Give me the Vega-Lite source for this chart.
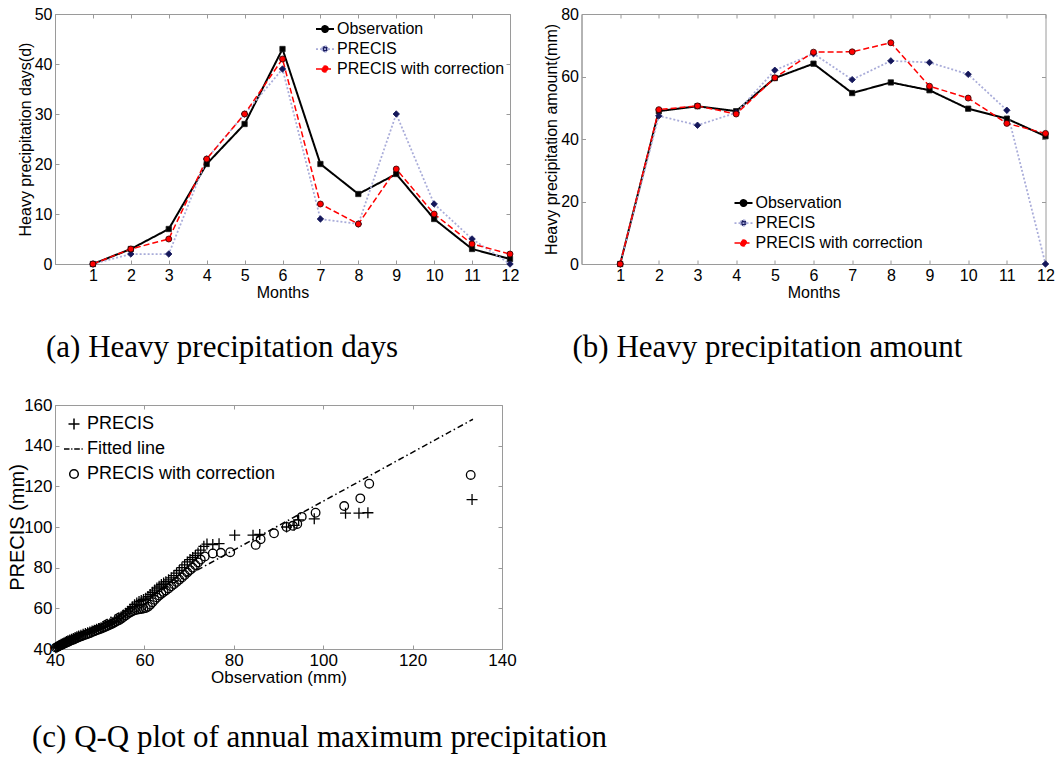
{
  "$schema": "https://vega.github.io/schema/vega-lite/v6.json",
  "padding": {"left": 7, "top": 5, "right": 5, "bottom": 0},
  "background": "white",
  "config": {
    "font": "Liberation Sans",
    "view": {"stroke": "#9a9a9a", "strokeWidth": 1},
    "axis": {
      "grid": false, "domainColor": "#9a9a9a", "tickColor": "#9a9a9a", "tickSize": -4,
      "labelPadding": 7, "labelFont": "Liberation Sans", "titleFont": "Liberation Sans",
      "labelColor": "black", "titleColor": "black", "titleFontWeight": "normal",
      "labelFontSize": 16, "titleFontSize": 16, "labelFlush": false, "labelOverlap": false
    },
    "legend": {"labelFont": "Liberation Sans", "labelColor": "black", "padding": 0, "title": null, "labelLimit": 400}
  },
  "resolve": {
    "scale": {"stroke": "independent", "strokeDash": "independent", "strokeWidth": "independent", "shape": "independent"}
  },
  "datasets": {
    "days": [
      {"month": 1, "series": "Observation", "value": 0}, {"month": 2, "series": "Observation", "value": 3},
      {"month": 3, "series": "Observation", "value": 7}, {"month": 4, "series": "Observation", "value": 20},
      {"month": 5, "series": "Observation", "value": 28}, {"month": 6, "series": "Observation", "value": 43},
      {"month": 7, "series": "Observation", "value": 20}, {"month": 8, "series": "Observation", "value": 14},
      {"month": 9, "series": "Observation", "value": 18}, {"month": 10, "series": "Observation", "value": 9},
      {"month": 11, "series": "Observation", "value": 3}, {"month": 12, "series": "Observation", "value": 1},
      {"month": 1, "series": "PRECIS", "value": 0}, {"month": 2, "series": "PRECIS", "value": 2},
      {"month": 3, "series": "PRECIS", "value": 2}, {"month": 4, "series": "PRECIS", "value": 21},
      {"month": 5, "series": "PRECIS", "value": 30}, {"month": 6, "series": "PRECIS", "value": 39},
      {"month": 7, "series": "PRECIS", "value": 9}, {"month": 8, "series": "PRECIS", "value": 8},
      {"month": 9, "series": "PRECIS", "value": 30}, {"month": 10, "series": "PRECIS", "value": 12},
      {"month": 11, "series": "PRECIS", "value": 5}, {"month": 12, "series": "PRECIS", "value": 0},
      {"month": 1, "series": "PRECIS with correction", "value": 0}, {"month": 2, "series": "PRECIS with correction", "value": 3},
      {"month": 3, "series": "PRECIS with correction", "value": 5}, {"month": 4, "series": "PRECIS with correction", "value": 21},
      {"month": 5, "series": "PRECIS with correction", "value": 30}, {"month": 6, "series": "PRECIS with correction", "value": 41},
      {"month": 7, "series": "PRECIS with correction", "value": 12}, {"month": 8, "series": "PRECIS with correction", "value": 8},
      {"month": 9, "series": "PRECIS with correction", "value": 19}, {"month": 10, "series": "PRECIS with correction", "value": 10},
      {"month": 11, "series": "PRECIS with correction", "value": 4}, {"month": 12, "series": "PRECIS with correction", "value": 2}
    ],
    "amount": [
      {"month": 1, "series": "Observation", "value": 0}, {"month": 2, "series": "Observation", "value": 48.9},
      {"month": 3, "series": "Observation", "value": 50.5}, {"month": 4, "series": "Observation", "value": 48.9},
      {"month": 5, "series": "Observation", "value": 59.5}, {"month": 6, "series": "Observation", "value": 64.1},
      {"month": 7, "series": "Observation", "value": 54.7}, {"month": 8, "series": "Observation", "value": 58.1},
      {"month": 9, "series": "Observation", "value": 55.6}, {"month": 10, "series": "Observation", "value": 49.7},
      {"month": 11, "series": "Observation", "value": 46.5}, {"month": 12, "series": "Observation", "value": 40.9},
      {"month": 1, "series": "PRECIS", "value": 0}, {"month": 2, "series": "PRECIS", "value": 47.4},
      {"month": 3, "series": "PRECIS", "value": 44.4}, {"month": 4, "series": "PRECIS", "value": 48.4},
      {"month": 5, "series": "PRECIS", "value": 62}, {"month": 6, "series": "PRECIS", "value": 67.3},
      {"month": 7, "series": "PRECIS", "value": 59}, {"month": 8, "series": "PRECIS", "value": 65},
      {"month": 9, "series": "PRECIS", "value": 64.5}, {"month": 10, "series": "PRECIS", "value": 60.7},
      {"month": 11, "series": "PRECIS", "value": 49.2}, {"month": 12, "series": "PRECIS", "value": 0},
      {"month": 1, "series": "PRECIS with correction", "value": 0}, {"month": 2, "series": "PRECIS with correction", "value": 49.4},
      {"month": 3, "series": "PRECIS with correction", "value": 50.6}, {"month": 4, "series": "PRECIS with correction", "value": 48},
      {"month": 5, "series": "PRECIS with correction", "value": 59.6}, {"month": 6, "series": "PRECIS with correction", "value": 67.8},
      {"month": 7, "series": "PRECIS with correction", "value": 67.9}, {"month": 8, "series": "PRECIS with correction", "value": 70.8},
      {"month": 9, "series": "PRECIS with correction", "value": 56.9}, {"month": 10, "series": "PRECIS with correction", "value": 53.1},
      {"month": 11, "series": "PRECIS with correction", "value": 45}, {"month": 12, "series": "PRECIS with correction", "value": 41.8}
    ],
    "fit": [
      {"obs": 40, "val": 40.5}, {"obs": 133.5, "val": 153}
    ],
    "qq": [
      {"obs": 40.2, "val": 40.6, "series": "PRECIS"}, {"obs": 40.5, "val": 41.0, "series": "PRECIS"},
      {"obs": 40.8, "val": 41.5, "series": "PRECIS"}, {"obs": 41.1, "val": 41.9, "series": "PRECIS"},
      {"obs": 41.4, "val": 42.3, "series": "PRECIS"}, {"obs": 41.7, "val": 42.6, "series": "PRECIS"},
      {"obs": 42.0, "val": 43.0, "series": "PRECIS"}, {"obs": 42.3, "val": 43.3, "series": "PRECIS"},
      {"obs": 42.6, "val": 43.7, "series": "PRECIS"}, {"obs": 42.9, "val": 44.0, "series": "PRECIS"},
      {"obs": 43.3, "val": 44.4, "series": "PRECIS"}, {"obs": 43.7, "val": 44.8, "series": "PRECIS"},
      {"obs": 44.1, "val": 45.2, "series": "PRECIS"}, {"obs": 44.5, "val": 45.6, "series": "PRECIS"},
      {"obs": 44.9, "val": 46.0, "series": "PRECIS"}, {"obs": 45.3, "val": 46.4, "series": "PRECIS"},
      {"obs": 45.8, "val": 46.8, "series": "PRECIS"}, {"obs": 46.3, "val": 47.2, "series": "PRECIS"},
      {"obs": 46.8, "val": 47.6, "series": "PRECIS"}, {"obs": 47.3, "val": 48.0, "series": "PRECIS"},
      {"obs": 47.8, "val": 48.4, "series": "PRECIS"}, {"obs": 48.3, "val": 48.8, "series": "PRECIS"},
      {"obs": 48.8, "val": 49.2, "series": "PRECIS"}, {"obs": 49.3, "val": 49.7, "series": "PRECIS"},
      {"obs": 49.8, "val": 50.1, "series": "PRECIS"}, {"obs": 50.3, "val": 50.5, "series": "PRECIS"},
      {"obs": 50.8, "val": 51.0, "series": "PRECIS"}, {"obs": 51.3, "val": 51.4, "series": "PRECIS"},
      {"obs": 51.8, "val": 51.9, "series": "PRECIS"}, {"obs": 52.3, "val": 52.4, "series": "PRECIS"},
      {"obs": 52.8, "val": 52.9, "series": "PRECIS"}, {"obs": 53.3, "val": 53.5, "series": "PRECIS"},
      {"obs": 53.8, "val": 54.2, "series": "PRECIS"}, {"obs": 54.3, "val": 55.0, "series": "PRECIS"},
      {"obs": 54.8, "val": 55.8, "series": "PRECIS"}, {"obs": 55.3, "val": 56.7, "series": "PRECIS"},
      {"obs": 55.8, "val": 57.6, "series": "PRECIS"}, {"obs": 56.3, "val": 58.6, "series": "PRECIS"},
      {"obs": 56.8, "val": 59.7, "series": "PRECIS"}, {"obs": 57.3, "val": 60.8, "series": "PRECIS"},
      {"obs": 57.8, "val": 61.8, "series": "PRECIS"}, {"obs": 58.3, "val": 62.6, "series": "PRECIS"},
      {"obs": 58.8, "val": 63.3, "series": "PRECIS"}, {"obs": 59.3, "val": 63.9, "series": "PRECIS"},
      {"obs": 59.8, "val": 64.4, "series": "PRECIS"}, {"obs": 60.3, "val": 65.0, "series": "PRECIS"},
      {"obs": 60.8, "val": 65.8, "series": "PRECIS"}, {"obs": 61.3, "val": 66.8, "series": "PRECIS"},
      {"obs": 61.8, "val": 67.9, "series": "PRECIS"}, {"obs": 62.3, "val": 69.0, "series": "PRECIS"},
      {"obs": 62.8, "val": 70.0, "series": "PRECIS"}, {"obs": 63.3, "val": 70.9, "series": "PRECIS"},
      {"obs": 63.8, "val": 71.7, "series": "PRECIS"}, {"obs": 64.3, "val": 72.4, "series": "PRECIS"},
      {"obs": 64.8, "val": 73.1, "series": "PRECIS"}, {"obs": 65.4, "val": 74.0, "series": "PRECIS"},
      {"obs": 66.0, "val": 75.0, "series": "PRECIS"}, {"obs": 66.6, "val": 76.1, "series": "PRECIS"},
      {"obs": 67.2, "val": 77.3, "series": "PRECIS"}, {"obs": 67.8, "val": 78.6, "series": "PRECIS"},
      {"obs": 68.4, "val": 80.0, "series": "PRECIS"}, {"obs": 69.0, "val": 81.4, "series": "PRECIS"},
      {"obs": 69.6, "val": 82.8, "series": "PRECIS"}, {"obs": 70.2, "val": 84.0, "series": "PRECIS"},
      {"obs": 70.8, "val": 85.0, "series": "PRECIS"}, {"obs": 71.4, "val": 86.0, "series": "PRECIS"},
      {"obs": 72.0, "val": 87.2, "series": "PRECIS"}, {"obs": 72.6, "val": 88.6, "series": "PRECIS"},
      {"obs": 73.3, "val": 90.5, "series": "PRECIS"}, {"obs": 74.0, "val": 91.6, "series": "PRECIS"},
      {"obs": 75.3, "val": 91.4, "series": "PRECIS"}, {"obs": 76.7, "val": 91.8, "series": "PRECIS"},
      {"obs": 80.2, "val": 96.0, "series": "PRECIS"}, {"obs": 84.3, "val": 96.0, "series": "PRECIS"},
      {"obs": 85.8, "val": 96.3, "series": "PRECIS"}, {"obs": 91.8, "val": 100.0, "series": "PRECIS"},
      {"obs": 93.5, "val": 100.8, "series": "PRECIS"}, {"obs": 94.5, "val": 103.5, "series": "PRECIS"},
      {"obs": 98.0, "val": 104.0, "series": "PRECIS"}, {"obs": 105.0, "val": 106.8, "series": "PRECIS"},
      {"obs": 108.0, "val": 106.8, "series": "PRECIS"}, {"obs": 110.0, "val": 107.0, "series": "PRECIS"},
      {"obs": 133.3, "val": 113.5, "series": "PRECIS"},
      {"obs": 40.2, "val": 40.7, "series": "PRECIS with correction"}, {"obs": 40.5, "val": 41.0, "series": "PRECIS with correction"},
      {"obs": 40.8, "val": 41.4, "series": "PRECIS with correction"}, {"obs": 41.1, "val": 41.7, "series": "PRECIS with correction"},
      {"obs": 41.4, "val": 42.0, "series": "PRECIS with correction"}, {"obs": 41.7, "val": 42.3, "series": "PRECIS with correction"},
      {"obs": 42.0, "val": 42.6, "series": "PRECIS with correction"}, {"obs": 42.3, "val": 42.9, "series": "PRECIS with correction"},
      {"obs": 42.6, "val": 43.2, "series": "PRECIS with correction"}, {"obs": 42.9, "val": 43.5, "series": "PRECIS with correction"},
      {"obs": 43.3, "val": 43.9, "series": "PRECIS with correction"}, {"obs": 43.7, "val": 44.3, "series": "PRECIS with correction"},
      {"obs": 44.1, "val": 44.6, "series": "PRECIS with correction"}, {"obs": 44.5, "val": 45.0, "series": "PRECIS with correction"},
      {"obs": 44.9, "val": 45.4, "series": "PRECIS with correction"}, {"obs": 45.3, "val": 45.8, "series": "PRECIS with correction"},
      {"obs": 45.8, "val": 46.2, "series": "PRECIS with correction"}, {"obs": 46.3, "val": 46.6, "series": "PRECIS with correction"},
      {"obs": 46.8, "val": 47.0, "series": "PRECIS with correction"}, {"obs": 47.3, "val": 47.4, "series": "PRECIS with correction"},
      {"obs": 47.8, "val": 47.8, "series": "PRECIS with correction"}, {"obs": 48.3, "val": 48.3, "series": "PRECIS with correction"},
      {"obs": 48.8, "val": 48.7, "series": "PRECIS with correction"}, {"obs": 49.3, "val": 49.2, "series": "PRECIS with correction"},
      {"obs": 49.8, "val": 49.6, "series": "PRECIS with correction"}, {"obs": 50.3, "val": 50.0, "series": "PRECIS with correction"},
      {"obs": 50.8, "val": 50.5, "series": "PRECIS with correction"}, {"obs": 51.3, "val": 50.9, "series": "PRECIS with correction"},
      {"obs": 51.8, "val": 51.4, "series": "PRECIS with correction"}, {"obs": 52.3, "val": 51.9, "series": "PRECIS with correction"},
      {"obs": 52.8, "val": 52.4, "series": "PRECIS with correction"}, {"obs": 53.3, "val": 53.0, "series": "PRECIS with correction"},
      {"obs": 53.8, "val": 53.6, "series": "PRECIS with correction"}, {"obs": 54.3, "val": 54.2, "series": "PRECIS with correction"},
      {"obs": 54.8, "val": 54.9, "series": "PRECIS with correction"}, {"obs": 55.3, "val": 55.7, "series": "PRECIS with correction"},
      {"obs": 55.8, "val": 56.5, "series": "PRECIS with correction"}, {"obs": 56.3, "val": 57.3, "series": "PRECIS with correction"},
      {"obs": 56.8, "val": 58.0, "series": "PRECIS with correction"}, {"obs": 57.3, "val": 58.6, "series": "PRECIS with correction"},
      {"obs": 57.8, "val": 59.0, "series": "PRECIS with correction"}, {"obs": 58.3, "val": 59.3, "series": "PRECIS with correction"},
      {"obs": 58.8, "val": 59.5, "series": "PRECIS with correction"}, {"obs": 59.3, "val": 59.7, "series": "PRECIS with correction"},
      {"obs": 59.8, "val": 59.9, "series": "PRECIS with correction"}, {"obs": 60.3, "val": 60.2, "series": "PRECIS with correction"},
      {"obs": 60.8, "val": 60.8, "series": "PRECIS with correction"}, {"obs": 61.3, "val": 61.8, "series": "PRECIS with correction"},
      {"obs": 61.8, "val": 63.0, "series": "PRECIS with correction"}, {"obs": 62.3, "val": 64.2, "series": "PRECIS with correction"},
      {"obs": 62.8, "val": 65.3, "series": "PRECIS with correction"}, {"obs": 63.3, "val": 66.3, "series": "PRECIS with correction"},
      {"obs": 63.8, "val": 67.2, "series": "PRECIS with correction"}, {"obs": 64.3, "val": 68.0, "series": "PRECIS with correction"},
      {"obs": 64.8, "val": 68.8, "series": "PRECIS with correction"}, {"obs": 65.4, "val": 69.8, "series": "PRECIS with correction"},
      {"obs": 66.0, "val": 70.8, "series": "PRECIS with correction"}, {"obs": 66.6, "val": 71.9, "series": "PRECIS with correction"},
      {"obs": 67.2, "val": 73.0, "series": "PRECIS with correction"}, {"obs": 67.8, "val": 74.1, "series": "PRECIS with correction"},
      {"obs": 68.4, "val": 75.2, "series": "PRECIS with correction"}, {"obs": 69.0, "val": 76.4, "series": "PRECIS with correction"},
      {"obs": 69.6, "val": 77.6, "series": "PRECIS with correction"}, {"obs": 70.2, "val": 78.8, "series": "PRECIS with correction"},
      {"obs": 70.8, "val": 80.0, "series": "PRECIS with correction"}, {"obs": 71.4, "val": 81.3, "series": "PRECIS with correction"},
      {"obs": 72.0, "val": 82.6, "series": "PRECIS with correction"}, {"obs": 72.6, "val": 84.0, "series": "PRECIS with correction"},
      {"obs": 73.5, "val": 85.5, "series": "PRECIS with correction"}, {"obs": 75.3, "val": 87.0, "series": "PRECIS with correction"},
      {"obs": 77.1, "val": 87.3, "series": "PRECIS with correction"}, {"obs": 79.2, "val": 87.6, "series": "PRECIS with correction"},
      {"obs": 84.9, "val": 91.2, "series": "PRECIS with correction"}, {"obs": 86.0, "val": 94.0, "series": "PRECIS with correction"},
      {"obs": 89.0, "val": 96.9, "series": "PRECIS with correction"}, {"obs": 91.8, "val": 100.0, "series": "PRECIS with correction"},
      {"obs": 93.2, "val": 100.6, "series": "PRECIS with correction"}, {"obs": 94.2, "val": 101.5, "series": "PRECIS with correction"},
      {"obs": 95.2, "val": 105.0, "series": "PRECIS with correction"}, {"obs": 98.3, "val": 107.0, "series": "PRECIS with correction"},
      {"obs": 104.7, "val": 110.3, "series": "PRECIS with correction"}, {"obs": 108.3, "val": 114.1, "series": "PRECIS with correction"},
      {"obs": 110.3, "val": 121.3, "series": "PRECIS with correction"}, {"obs": 133.0, "val": 125.6, "series": "PRECIS with correction"}
    ]
  },
  "columns": 2,
  "bounds": "flush",
  "spacing": {"column": 71.5, "row": 141},
  "concat": [
    {
      "width": 455, "height": 250,
      "title": {"text": "(a) Heavy precipitation days", "orient": "bottom", "anchor": "start", "frame": "group", "font": "Liberation Serif", "fontSize": 31, "fontWeight": "normal", "color": "black", "offset": 33, "dx": -9},
      "data": {"name": "days"},
      "resolve": {"axis": {"x": "independent", "y": "independent"}},
      "encoding": {
        "x": {"field": "month", "type": "quantitative", "scale": {"domain": [0, 12], "nice": false}, "axis": {"values": [1,2,3,4,5,6,7,8,9,10,11,12], "format": "d", "title": "Months", "titlePadding": 1}},
        "y": {"field": "value", "type": "quantitative", "scale": {"domain": [0, 50], "nice": false}, "axis": {"values": [0,10,20,30,40,50], "title": "Heavy precipitation days(d)", "titlePadding": 1}}
      },
      "layer": [
        {
          "mark": {"type": "line"},
          "encoding": {
            "stroke": {"field": "series", "type": "nominal", "scale": {"domain": ["Observation", "PRECIS", "PRECIS with correction"], "range": ["#000000", "#a9acd9", "#ff0000"]},
              "legend": {"orient": "top-right", "offset": 5, "labelFontSize": 16, "labelOffset": 2, "rowPadding": 2,
                "symbolType": "M-1,0L1,0M-0.33,0A0.33,0.33 0 1,0 0.33,0A0.33,0.33 0 1,0 -0.33,0", "symbolSize": 324,
                "encode": {"symbols": {"update": {
                  "fill": {"signal": "datum.value === 'Observation' ? '#000000' : datum.value === 'PRECIS' ? '#14175a' : '#ff0000'"},
                  "strokeDash": {"signal": "datum.value === 'PRECIS' ? [2,2] : datum.value === 'PRECIS with correction' ? [5,3] : [1,0]"},
                  "strokeWidth": {"signal": "datum.value === 'PRECIS' ? 1.5 : datum.value === 'PRECIS with correction' ? 2.5 : 2"}
                }}}}},
            "strokeDash": {"field": "series", "type": "nominal", "scale": {"domain": ["Observation", "PRECIS", "PRECIS with correction"], "range": [[1,0],[2,2],[6,3]]}, "legend": null},
            "strokeWidth": {"field": "series", "type": "nominal", "scale": {"domain": ["Observation", "PRECIS", "PRECIS with correction"], "range": [2, 1.5, 2.5]}, "legend": null}
          }
        },
        {"transform": [{"filter": "datum.series === 'Observation'"}], "mark": {"type": "point", "shape": "square", "filled": true, "fill": "#000000", "stroke": "#1a1a1a", "strokeWidth": 0.8, "size": 28, "opacity": 1},
          "encoding": {
            "x": {"field": "month", "type": "quantitative", "scale": {"domain": [0, 12], "nice": false}, "axis": {"orient": "top", "values": [1,2,3,4,5,6,7,8,9,10,11,12], "labels": false, "title": null, "domain": false}},
            "y": {"field": "value", "type": "quantitative", "scale": {"domain": [0, 50], "nice": false}, "axis": {"orient": "right", "values": [0,10,20,30,40,50], "labels": false, "title": null, "domain": false}}
          }},
        {"transform": [{"filter": "datum.series === 'PRECIS'"}], "mark": {"type": "point", "shape": "diamond", "filled": true, "fill": "#14175a", "stroke": "#14175a", "strokeWidth": 0.8, "size": 42, "opacity": 1},
          "encoding": {
            "x": {"field": "month", "type": "quantitative", "scale": {"domain": [0, 12], "nice": false}, "axis": null},
            "y": {"field": "value", "type": "quantitative", "scale": {"domain": [0, 50], "nice": false}, "axis": null}
          }},
        {"transform": [{"filter": "datum.series === 'PRECIS with correction'"}], "mark": {"type": "point", "shape": "circle", "filled": true, "fill": "#ff0000", "stroke": "#2a0000", "strokeWidth": 0.8, "size": 36, "opacity": 1},
          "encoding": {
            "x": {"field": "month", "type": "quantitative", "scale": {"domain": [0, 12], "nice": false}, "axis": null},
            "y": {"field": "value", "type": "quantitative", "scale": {"domain": [0, 50], "nice": false}, "axis": null}
          }}
      ]
    },
    {
      "width": 464, "height": 250,
      "title": {"text": "(b) Heavy precipitation amount", "orient": "bottom", "anchor": "start", "frame": "group", "font": "Liberation Serif", "fontSize": 31, "fontWeight": "normal", "color": "black", "offset": 33, "dx": -9},
      "data": {"name": "amount"},
      "resolve": {"axis": {"x": "independent", "y": "independent"}},
      "encoding": {
        "x": {"field": "month", "type": "quantitative", "scale": {"domain": [0, 12], "nice": false}, "axis": {"values": [1,2,3,4,5,6,7,8,9,10,11,12], "format": "d", "title": "Months", "titlePadding": 1}},
        "y": {"field": "value", "type": "quantitative", "scale": {"domain": [0, 80], "nice": false}, "axis": {"values": [0,20,40,60,80], "title": "Heavy precipitation amount(mm)", "titlePadding": 1}}
      },
      "layer": [
        {
          "mark": {"type": "line"},
          "encoding": {
            "stroke": {"field": "series", "type": "nominal", "scale": {"domain": ["Observation", "PRECIS", "PRECIS with correction"], "range": ["#000000", "#a9acd9", "#ff0000"]},
              "legend": {"orient": "none", "legendX": 152, "legendY": 179, "labelFontSize": 16, "labelOffset": 2, "rowPadding": 2,
                "symbolType": "M-1,0L1,0M-0.33,0A0.33,0.33 0 1,0 0.33,0A0.33,0.33 0 1,0 -0.33,0", "symbolSize": 324,
                "encode": {"symbols": {"update": {
                  "fill": {"signal": "datum.value === 'Observation' ? '#000000' : datum.value === 'PRECIS' ? '#14175a' : '#ff0000'"},
                  "strokeDash": {"signal": "datum.value === 'PRECIS' ? [2,2] : datum.value === 'PRECIS with correction' ? [5,3] : [1,0]"},
                  "strokeWidth": {"signal": "datum.value === 'PRECIS' ? 1.5 : datum.value === 'PRECIS with correction' ? 2.5 : 2"}
                }}}}},
            "strokeDash": {"field": "series", "type": "nominal", "scale": {"domain": ["Observation", "PRECIS", "PRECIS with correction"], "range": [[1,0],[2,2],[6,3]]}, "legend": null},
            "strokeWidth": {"field": "series", "type": "nominal", "scale": {"domain": ["Observation", "PRECIS", "PRECIS with correction"], "range": [2, 1.5, 2.5]}, "legend": null}
          }
        },
        {"transform": [{"filter": "datum.series === 'Observation'"}], "mark": {"type": "point", "shape": "square", "filled": true, "fill": "#000000", "stroke": "#1a1a1a", "strokeWidth": 0.8, "size": 28, "opacity": 1},
          "encoding": {
            "x": {"field": "month", "type": "quantitative", "scale": {"domain": [0, 12], "nice": false}, "axis": {"orient": "top", "values": [1,2,3,4,5,6,7,8,9,10,11,12], "labels": false, "title": null, "domain": false}},
            "y": {"field": "value", "type": "quantitative", "scale": {"domain": [0, 80], "nice": false}, "axis": {"orient": "right", "values": [0,20,40,60,80], "labels": false, "title": null, "domain": false}}
          }},
        {"transform": [{"filter": "datum.series === 'PRECIS'"}], "mark": {"type": "point", "shape": "diamond", "filled": true, "fill": "#14175a", "stroke": "#14175a", "strokeWidth": 0.8, "size": 42, "opacity": 1},
          "encoding": {
            "x": {"field": "month", "type": "quantitative", "scale": {"domain": [0, 12], "nice": false}, "axis": null},
            "y": {"field": "value", "type": "quantitative", "scale": {"domain": [0, 80], "nice": false}, "axis": null}
          }},
        {"transform": [{"filter": "datum.series === 'PRECIS with correction'"}], "mark": {"type": "point", "shape": "circle", "filled": true, "fill": "#ff0000", "stroke": "#2a0000", "strokeWidth": 0.8, "size": 36, "opacity": 1},
          "encoding": {
            "x": {"field": "month", "type": "quantitative", "scale": {"domain": [0, 12], "nice": false}, "axis": null},
            "y": {"field": "value", "type": "quantitative", "scale": {"domain": [0, 80], "nice": false}, "axis": null}
          }}
      ]
    },
    {
      "width": 447, "height": 244,
      "title": {"text": "(c) Q-Q plot of annual maximum precipitation", "orient": "bottom", "anchor": "start", "frame": "group", "font": "Liberation Serif", "fontSize": 31, "fontWeight": "normal", "color": "black", "offset": 38, "dx": -23},
      "resolve": {"axis": {"x": "independent", "y": "independent"}},
      "encoding": {
        "x": {"field": "obs", "type": "quantitative", "scale": {"domain": [40, 140], "nice": false, "zero": false}, "axis": {"values": [40,60,80,100,120,140], "title": "Observation (mm)", "labelFontSize": 17, "titleFontSize": 17, "titlePadding": 1}},
        "y": {"field": "val", "type": "quantitative", "scale": {"domain": [40, 160], "nice": false, "zero": false}, "axis": {"values": [40,60,80,100,120,140,160], "title": "PRECIS (mm)", "labelFontSize": 17, "titleFontSize": 20, "titlePadding": -4}}
      },
      "layer": [
        {
          "data": {"name": "fit"},
          "mark": {"type": "line", "stroke": "black", "strokeWidth": 1.5, "strokeDash": [6, 3, 1.5, 3]}
        },
        {
          "data": {"name": "qq"},
          "mark": {"type": "point", "filled": false, "stroke": "black", "strokeWidth": 1.3, "size": 400, "opacity": 1},
          "encoding": {
            "x": {"field": "obs", "type": "quantitative", "scale": {"domain": [40, 140], "nice": false, "zero": false}, "axis": {"orient": "top", "values": [40,60,80,100,120,140], "labels": false, "title": null, "domain": false}},
            "y": {"field": "val", "type": "quantitative", "scale": {"domain": [40, 160], "nice": false, "zero": false}, "axis": {"orient": "right", "values": [40,60,80,100,120,140,160], "labels": false, "title": null, "domain": false}},
            "shape": {"field": "series", "type": "nominal",
              "scale": {"domain": ["PRECIS", "Fitted line", "PRECIS with correction"], "range": ["M-0.55,0L0.55,0M0,-0.55L0,0.55", "M-1,0L-0.45,0M-0.28,0L-0.16,0M0.02,0L0.58,0M0.75,0L0.87,0", "M-0.43,0A0.43,0.43 0 1,0 0.43,0A0.43,0.43 0 1,0 -0.43,0"]},
              "legend": {"orient": "top-left", "offset": 8, "labelFontSize": 18, "labelOffset": 2, "rowPadding": 5, "symbolSize": 400,
                "encode": {"symbols": {"update": {
                  "stroke": {"value": "black"}, "fill": {"value": "transparent"}, "strokeWidth": {"value": 1.3}
                }}}}}
          }
        }
      ]
    }
  ]
}
